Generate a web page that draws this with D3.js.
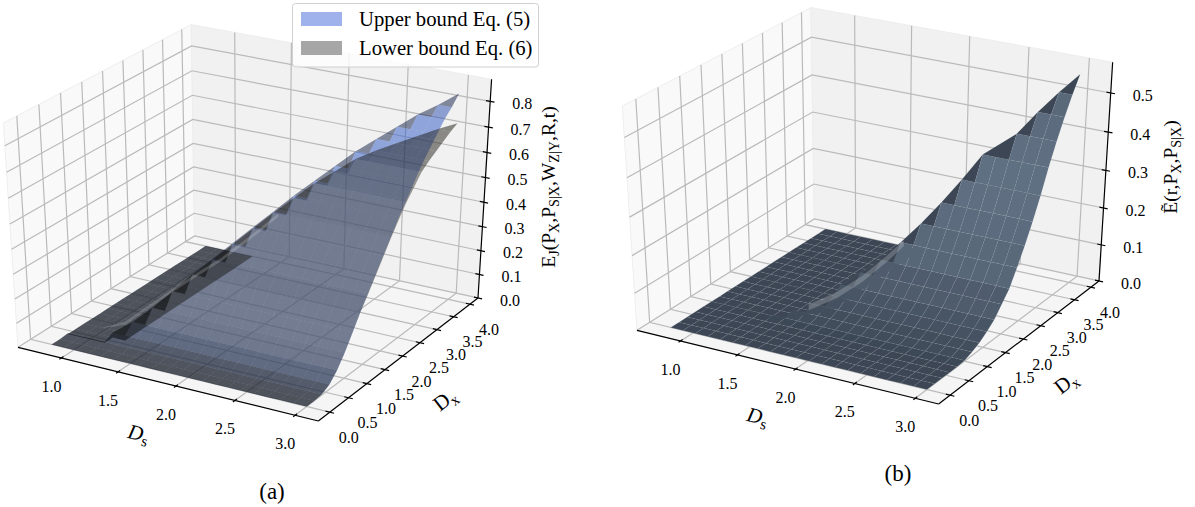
<!DOCTYPE html>
<html>
<head>
<meta charset="utf-8">
<script src="https://cdn.jsdelivr.net/npm/d3@7"></script>
<style>
  html, body { margin: 0; background: #fff; }
  text { font-family: "Liberation Serif", serif; fill: #000; }
</style>
</head>
<body>
<div id="chart"></div>
<script>
// grid of both surfaces
const dsVals = [0.8, 0.91, 1.02, 1.13, 1.24, 1.35, 1.46, 1.57, 1.68, 1.79, 1.9, 2.01, 2.12, 2.23, 2.34, 2.45, 2.56, 2.67, 2.78, 2.89, 3.0]
const dxVals = [0, 0.2, 0.4, 0.6, 0.8, 1.0, 1.2, 1.4, 1.6, 1.8, 2.0, 2.2, 2.4, 2.6, 2.8, 3.0, 3.2, 3.4, 3.6, 3.8, 4.0]

// height of each Dx row, and the Ds column where that row starts to be raised
const upperRowZ = [0, 0, 0.003, 0.02, 0.055, 0.105, 0.165, 0.225, 0.28, 0.335, 0.39, 0.445, 0.5, 0.55, 0.6, 0.65, 0.69, 0.73, 0.77, 0.8, 0.835]
const lowerRowZ = [0, 0, 0.003, 0.02, 0.055, 0.105, 0.165, 0.225, 0.275, 0.33, 0.385, 0.44, 0.49, 0.54, 0.58, 0.62, 0.645, 0.665, 0.685, 0.705, 0.72]
const boundRowZ = [0, 0, 0, 0, 0, 0.002, 0.01, 0.02, 0.035, 0.053, 0.08, 0.108, 0.15, 0.195, 0.245, 0.3, 0.36, 0.415, 0.465, 0.51, 0.55]
const upperWall = [0, 0, 0, 3, 4, 5, 6, 7, 8, 9, 10, 11, 12, 13, 14, 15, 16, 17, 18, 19, 20]
const lowerWall = [0, 0, 0, 3, 4, 5, 6, 7, 8, 9, 10, 11, 12, 13, 14, 15, 16, 17, 18, 19, 20]
const boundWall = [0, 0, 0, 0, 0, 5, 6, 7, 8, 8, 9, 10, 11, 12, 13, 14, 15, 17, 18, 19, 20]
// how many Ds columns of the flat part stay at zero behind the raised part
const flatColsA = 4
const flatColsB = 8

// the thin light band that runs along the foot of the steps
const ribbonADs = [0.97, 1.1, 1.2, 1.4, 1.56, 1.69, 1.87, 2.05]
const ribbonADx = [0.8, 1.0, 1.2, 1.4, 1.6, 1.8, 2.0, 2.2]
const ribbonAZ = [0.002, 0.02, 0.065, 0.15, 0.215, 0.265, 0.35, 0.44]
const ribbonBDs = [1.53, 1.71, 1.87, 2.01, 2.1]
const ribbonBDx = [1.4, 1.6, 1.8, 2.0, 2.2]
const ribbonBZ = [0.016, 0.048, 0.09, 0.138, 0.175]

const dsTicks = [1.0, 1.5, 2.0, 2.5, 3.0]
const dxTicks = [0, 0.5, 1.0, 1.5, 2.0, 2.5, 3.0, 3.5, 4.0]
const zTicksA = [0, 0.1, 0.2, 0.3, 0.4, 0.5, 0.6, 0.7, 0.8]
const zTicksB = [0, 0.1, 0.2, 0.3, 0.4, 0.5]
const dsLim = [0.61, 3.19]
const dxLim = [-0.3, 4.25]

const legendNames = ['Upper bound Eq. (5)', 'Lower bound Eq. (6)']
const legendColors = ['#9fb2ec', '#a6a6a6']

const svg = d3.select('#chart').append('svg')
  .attr('width', 1195).attr('height', 507)
  .style('display', 'block')

// same camera as a default mplot3d axes: elev 30, azim -60, dist 10
function makeProjection (zTop, frame) {
  const bx = 1.19, bz = 1.19
  const el = 30 * Math.PI / 180, az = -60 * Math.PI / 180, dist = 10
  const sxW = d3.scaleLinear().domain(dsLim).range([0, bx])
  const syW = d3.scaleLinear().domain(dxLim).range([0, bx])
  const szW = d3.scaleLinear().domain([0, zTop]).range([0, bz])
  const w = [Math.cos(el) * Math.cos(az), Math.cos(el) * Math.sin(az), Math.sin(el)]
  const u = [-w[1], w[0], 0].map(v => v / Math.hypot(w[0], w[1]))
  const v = [w[1] * u[2] - w[2] * u[1], w[2] * u[0] - w[0] * u[2], w[0] * u[1] - w[1] * u[0]]
  const dot = (a, b) => a[0] * b[0] + a[1] * b[1] + a[2] * b[2]
  const view = (ds, dx, z) => {
    const p = [sxW(ds) - bx / 2 - dist * w[0], syW(dx) - bx / 2 - dist * w[1], szW(z) - bz / 2 - dist * w[2]]
    const d = -dot(w, p)
    return { x: dot(u, p) / d, y: dot(v, p) / d, d }
  }
  const left = view(dsLim[0], dxLim[0], 0)
  const right = view(dsLim[1], dxLim[1], 0)
  const front = view(dsLim[1], dxLim[0], 0)
  const back = view(dsLim[0], dxLim[1], 0)
  const xs = d3.scaleLinear().domain([left.x, right.x]).range([frame.leftX, frame.rightX])
  const ys = d3.scaleLinear().domain([front.y, back.y]).range([frame.frontY, frame.backY])
  const project = (ds, dx, z) => {
    const p = view(ds, dx, z)
    return [xs(p.x), ys(p.y)]
  }
  return { project, depth: (ds, dx, z) => view(ds, dx, z).d }
}

function surfaceCells (rowZ, wall, flatCols) {
  const cells = []
  const up = (i, j) => i >= wall[j]
  const litOf = pts => {
    const a = [pts[2][0] - pts[0][0], pts[2][1] - pts[0][1], pts[2][2] - pts[0][2]]
    const b = [pts[3][0] - pts[1][0], pts[3][1] - pts[1][1], pts[3][2] - pts[1][2]]
    const n = [a[1] * b[2] - a[2] * b[1], a[2] * b[0] - a[0] * b[2], a[0] * b[1] - a[1] * b[0]]
    return (-0.667 * n[0] - 0.667 * n[1] + 0.333 * n[2]) / Math.hypot(n[0], n[1], n[2])
  }
  for (let j = 0; j < dxVals.length - 1; j++) {
    for (let i = 0; i < dsVals.length - 1; i++) {
      const all = up(i, j) && up(i + 1, j) && up(i + 1, j + 1) && up(i, j + 1)
      if (all) {
        const pts = [[i, j], [i + 1, j], [i + 1, j + 1], [i, j + 1]].map(c => [dsVals[c[0]], dxVals[c[1]], rowZ[c[1]]])
        cells.push({ pts, isStep: false, lit: litOf(pts) })
      } else if (i < flatCols) {
        const pts = [[i, j], [i + 1, j], [i + 1, j + 1], [i, j + 1]].map(c => [dsVals[c[0]], dxVals[c[1]], 0])
        cells.push({ pts, isStep: false, isFlat: true, lit: 0.333 })
      }
    }
    // the dark facet that closes each step of the raised edge
    if (wall[j + 1] > wall[j] && rowZ[j] > 0.01) {
      const pts = [
        [dsVals[wall[j]], dxVals[j], rowZ[j]],
        [dsVals[wall[j + 1]], dxVals[j], rowZ[j]],
        [dsVals[wall[j + 1]], dxVals[j + 1], rowZ[j + 1]]
      ]
      cells.push({ pts, isStep: true, lit: 0.333 })
    }
  }
  return cells
}

function drawFrame (g, proj, zTop, zTicks, offsets) {
  const line = d3.line()
  const P = proj.project
  const [d0, d1] = dsLim
  const [x0, x1] = dxLim
  const panes = [
    { fill: '#f9f9f9', pts: [[d0, x0, 0], [d0, x1, 0], [d0, x1, zTop], [d0, x0, zTop]] },
    { fill: '#f1f1f1', pts: [[d0, x1, 0], [d1, x1, 0], [d1, x1, zTop], [d0, x1, zTop]] },
    { fill: '#f5f5f5', pts: [[d0, x0, 0], [d1, x0, 0], [d1, x1, 0], [d0, x1, 0]] }
  ]
  g.selectAll('.pane').data(panes).join('path')
    .attr('class', 'pane')
    .attr('d', d => line(d.pts.map(p => P(...p))) + 'Z')
    .attr('fill', d => d.fill)
    .attr('stroke', '#eeeeee')
    .attr('stroke-width', 1)

  const grids = [
    ...dsTicks.map(t => [[t, x0, 0], [t, x1, 0], [t, x1, zTop]]),
    ...dxTicks.map(t => [[d1, t, 0], [d0, t, 0], [d0, t, zTop]]),
    ...zTicks.map(t => [[d0, x0, t], [d0, x1, t], [d1, x1, t]])
  ]
  g.selectAll('.gridline').data(grids).join('path')
    .attr('class', 'gridline')
    .attr('d', d => line(d.map(p => P(...p))))
    .attr('fill', 'none')
    .attr('stroke', '#bababa')
    .attr('stroke-width', 1.2)

  const spines = [
    [[d0, x0, 0], [d1, x0, 0]],
    [[d1, x0, 0], [d1, x1, 0]],
    [[d1, x1, 0], [d1, x1, zTop]],
    ...dsTicks.map(t => [[t, x0 - 0.05, 0], [t, x0 + 0.05, 0]]),
    ...dxTicks.map(t => [[d1 - 0.035, t, 0], [d1 + 0.035, t, 0]]),
    ...zTicks.map(t => [[d1 - 0.035, x1, t], [d1 + 0.035, x1, t]])
  ]
  g.selectAll('.spine').data(spines).join('path')
    .attr('class', 'spine')
    .attr('d', d => line(d.map(p => P(...p))))
    .attr('fill', 'none')
    .attr('stroke', '#000')
    .attr('stroke-width', 1.2)

  const tickText = (cls, ticks, pos, off) => g.selectAll('.' + cls).data(ticks).join('text')
    .attr('class', cls)
    .attr('x', d => pos(d)[0] + off[0])
    .attr('y', d => pos(d)[1] + off[1])
    .attr('text-anchor', 'middle')
    .attr('dominant-baseline', 'middle')
    .attr('font-size', 16)
    .text(d => d3.format('.1f')(d))
  tickText('dsT', dsTicks, t => P(t, x0, 0), offsets.ds)
  tickText('dxT', dxTicks, t => P(d1, t, 0), offsets.dx)
  tickText('zT', zTicks, t => P(d1, x1, t), offsets.z)
}

function drawSurface (g, proj, cells, style) {
  const line = d3.line()
  // flat cells go down first, everything else back to front
  const sorted = cells.map(c => ({
    ...c,
    depth: d3.mean(c.pts, p => proj.depth(...p))
  })).sort((a, b) => d3.descending(!!a.isFlat, !!b.isFlat) || d3.descending(a.depth, b.depth))
  g.append('g').selectAll('path').data(sorted).join('path')
    .attr('d', d => line(d.pts.map(p => proj.project(...p))) + 'Z')
    .attr('fill', style.fill)
    .attr('fill-opacity', style.opacity)
    .attr('stroke', style.stroke)
    .attr('stroke-opacity', style.strokeOpacity)
    .attr('stroke-width', style.strokeWidth)
}

function drawRibbon (g, proj, dsR, dxR, zR, thick, color, alpha) {
  const top = dsR.map((d, i) => proj.project(d, dxR[i], zR[i]))
  const bottom = dsR.map((d, i) => proj.project(d, dxR[i], Math.max(0, zR[i] - thick))).reverse()
  g.append('path')
    .attr('d', d3.line()(top.concat(bottom)) + 'Z')
    .attr('fill', color)
    .attr('fill-opacity', alpha)
}

function subLabel (g, x, y, angle, size, parts) {
  const t = g.append('text')
    .attr('transform', `translate(${x},${y}) rotate(${angle})`)
    .attr('text-anchor', 'middle')
    .attr('font-size', size)
  let shift = 0
  parts.forEach(p => {
    const want = p[1] ? size * 0.22 : 0
    t.append('tspan')
      .attr('dy', want - shift)
      .attr('font-size', p[1] ? size * 0.72 : size)
      .attr('font-style', p[2] ? 'italic' : null)
      .text(p[0])
    shift = want
  })
}

// panel (a)
const gA = svg.append('g')
const projA = makeProjection(0.885, { leftX: 18, rightX: 478, frontY: 421, backY: 236 })
drawFrame(gA, projA, 0.885, zTicksA, { ds: [-10, 30], dx: [19, 27], z: [32, 4] })

const fA = d3.scaleLinear().domain([0.333, 0.45]).range([0.35, 0.88]).clamp(true)
const fAGray = d3.scaleLinear().domain([0.333, 0.42, 0.5]).range([0.3, 0.42, 1]).clamp(true)
const tint = (base, f) => d3.rgb(base[0] * f, base[1] * f, base[2] * f).formatHex()
drawSurface(gA, projA, surfaceCells(upperRowZ, upperWall, flatColsA), {
  fill: d => tint([50, 100, 225], d.isStep ? 0.3 : fA(d.lit)),
  opacity: 0.5, stroke: 'none', strokeOpacity: 0, strokeWidth: 0
})
drawSurface(gA, projA, surfaceCells(lowerRowZ, lowerWall, flatColsA), {
  fill: d => tint([86, 82, 68], d.isStep ? 0.3 : fAGray(d.lit)),
  opacity: 0.5, stroke: 'none', strokeOpacity: 0, strokeWidth: 0
})
drawRibbon(gA, projA, ribbonADs, ribbonADx, ribbonAZ, 0.014, '#ffffff', 0.18)

subLabel(gA, 137, 440, 13, 21, [['D', false, true], ['s', true, false]])
subLabel(gA, 449, 405, -38, 21, [['D', false, false], ['x', true, false]])
subLabel(gA.append('g').attr('transform', 'translate(555,187) rotate(-90)'), 0, 0, 0, 19.6, [
  ['E', false], ['J', true], ['(P', false], ['X', true], [',P', false], ['S|X', true],
  [',W', false], ['Z|Y', true], [',R,t)', false]
])
gA.append('text').attr('x', 272).attr('y', 499).attr('text-anchor', 'middle').attr('font-size', 23).text('(a)')

// legend
const legend = gA.append('g')
legend.append('rect')
  .attr('x', 292.5).attr('y', 3.5).attr('width', 246).attr('height', 63.5).attr('rx', 3)
  .attr('fill', '#fff').attr('fill-opacity', 0.8)
  .attr('stroke', '#d0d0d0').attr('stroke-width', 1)
const legendY = d3.scalePoint().domain(legendNames).range([12, 41])
legend.selectAll('rect.key').data(legendNames).join('rect')
  .attr('class', 'key')
  .attr('x', 301).attr('y', d => legendY(d)).attr('width', 41).attr('height', 14)
  .attr('fill', (d, i) => legendColors[i])
legend.selectAll('text').data(legendNames).join('text')
  .attr('x', 359).attr('y', d => legendY(d) + 14)
  .attr('font-size', 20.7)
  .text(d => d)

// panel (b)
const gB = svg.append('g')
const projB = makeProjection(0.577, { leftX: 637, rightX: 1099, frontY: 404, backY: 219 })
drawFrame(gB, projB, 0.577, zTicksB, { ds: [-10, 30], dx: [19, 27], z: [32, 4] })

const colB = d3.scaleLinear().domain([0.333, 0.5]).range(['#3c4654', '#5f7082']).clamp(true)
drawSurface(gB, projB, surfaceCells(boundRowZ, boundWall, flatColsB), {
  fill: d => d.isStep ? '#3c4654' : colB(d.lit),
  opacity: 1, stroke: '#8f9dab', strokeOpacity: 0.14, strokeWidth: 0.5
})
drawRibbon(gB, projB, ribbonBDs, ribbonBDx, ribbonBZ, 0.016, '#ffffff', 0.2)

subLabel(gB, 756, 423, 13, 21, [['D', false, true], ['s', true, false]])
subLabel(gB, 1070, 388, -38, 21, [['D', false, false], ['x', true, false]])
subLabel(gB.append('g').attr('transform', 'translate(1177,167) rotate(-90)'), 0, 0, 0, 19.6, [
  ['Ẽ', false], ['(r,P', false], ['X', true], [',P', false], ['S|X', true], [')', false]
])
gB.append('text').attr('x', 898).attr('y', 481).attr('text-anchor', 'middle').attr('font-size', 23).text('(b)')
</script>
</body>
</html>
